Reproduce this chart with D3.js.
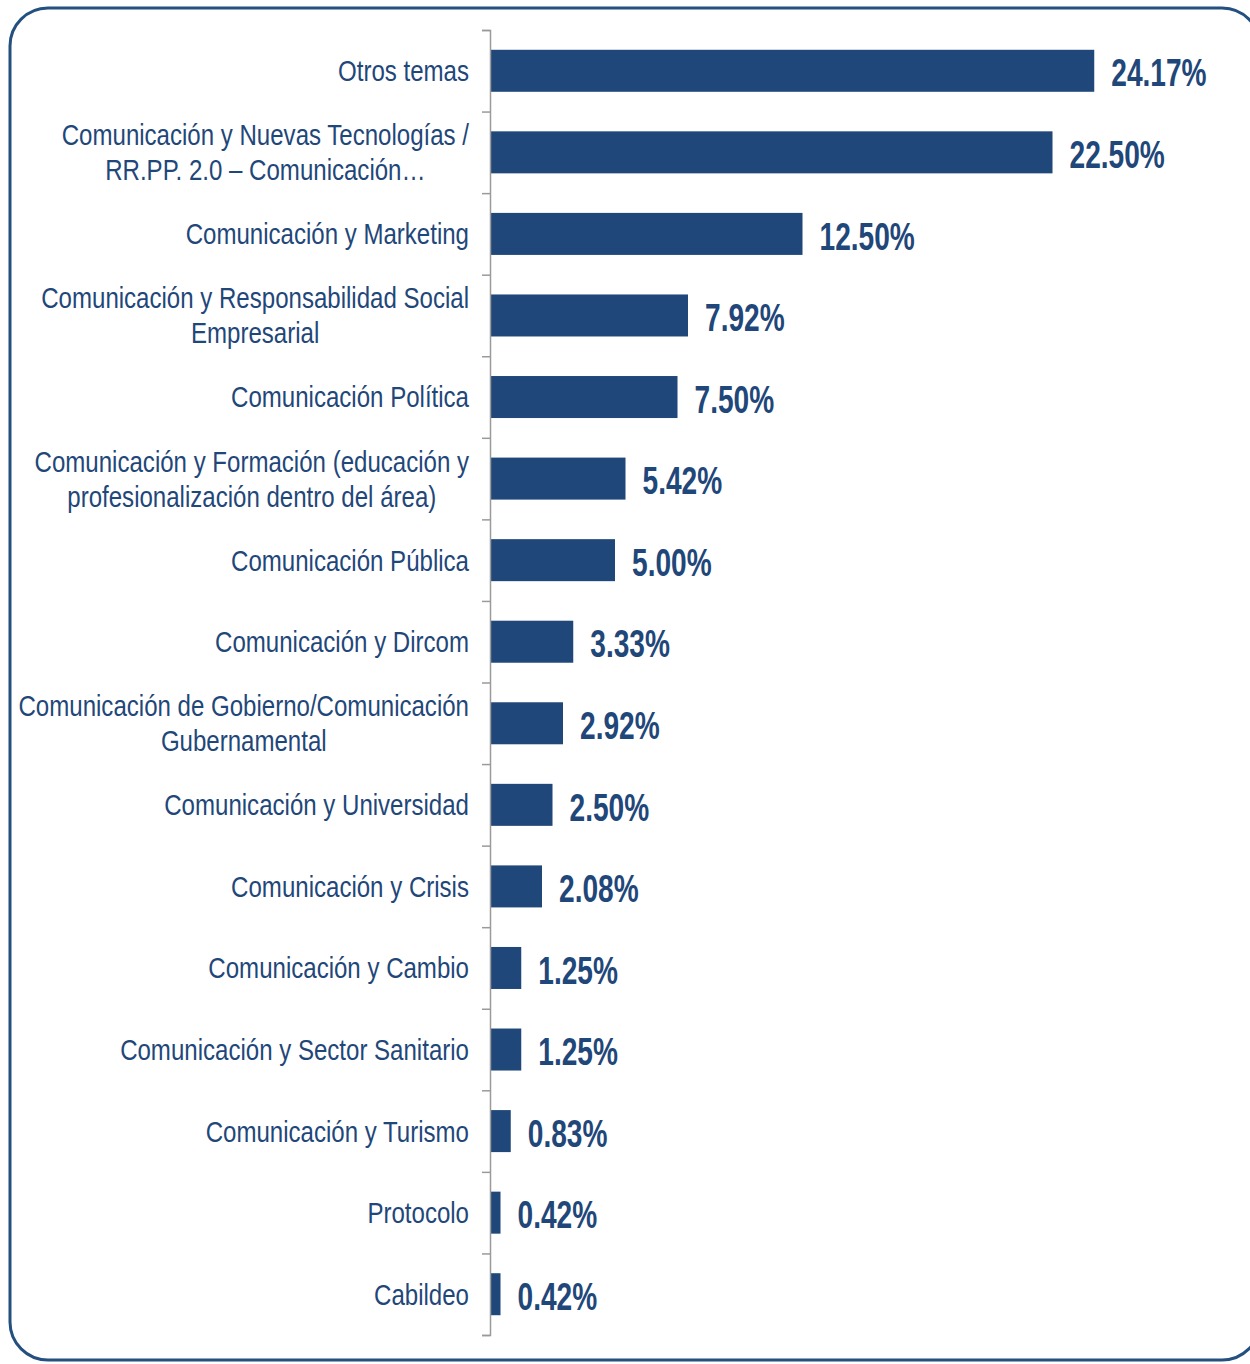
<!DOCTYPE html>
<html>
<head>
<meta charset="utf-8">
<script src="https://cdn.jsdelivr.net/npm/d3@7"></script>
<style>
  body { margin: 0; background: #fff; }
  svg { display: block; }
</style>
</head>
<body>
<div id="chart"></div>
<script>
// categories (lines split with |) and shares in %
const categories = [
  "Otros temas",
  "Comunicación y Nuevas Tecnologías /|RR.PP. 2.0 – Comunicación…",
  "Comunicación y Marketing",
  "Comunicación y Responsabilidad Social|Empresarial",
  "Comunicación Política",
  "Comunicación y Formación (educación y|profesionalización dentro del área)",
  "Comunicación Pública",
  "Comunicación y Dircom",
  "Comunicación de Gobierno/Comunicación|Gubernamental",
  "Comunicación y Universidad",
  "Comunicación y Crisis",
  "Comunicación y Cambio",
  "Comunicación y Sector Sanitario",
  "Comunicación y Turismo",
  "Protocolo",
  "Cabildeo"
];
const values = [24.17, 22.50, 12.50, 7.92, 7.50, 5.42, 5.00, 3.33, 2.92, 2.50, 2.08, 1.25, 1.25, 0.83, 0.42, 0.42];

const width = 1250, height = 1364;
const blue = "#1f4779";
const axisX = 490, plotTop = 30, plotBottom = 1335;

const svg = d3.select("#chart").append("svg")
    .attr("width", width)
    .attr("height", height);

// frame
svg.append("rect")
    .attr("x", 10).attr("y", 8)
    .attr("width", 1250).attr("height", 1352)
    .attr("rx", 38).attr("ry", 38)
    .attr("fill", "none")
    .attr("stroke", "#24507f")
    .attr("stroke-width", 3);

const y = d3.scaleBand()
    .domain(d3.range(categories.length))
    .range([plotTop, plotBottom])
    .paddingInner(0.485)
    .paddingOuter(0.2425);

const x = d3.scaleLinear()
    .domain([0, 30])
    .range([axisX, axisX + 750]);

const g = svg.append("g");

g.selectAll("rect.bar")
    .data(values)
    .join("rect")
    .attr("class", "bar")
    .attr("x", x(0))
    .attr("y", (d, i) => y(i))
    .attr("width", d => x(d) - x(0))
    .attr("height", y.bandwidth())
    .attr("fill", blue);

// axis line with ticks at band boundaries
const yAxis = d3.scaleLinear().domain([0, categories.length]).range([plotTop, plotBottom]);
const ax = svg.append("g")
    .attr("transform", `translate(${axisX},0)`)
    .call(d3.axisLeft(yAxis).tickValues(d3.range(categories.length + 1)).tickSize(8).tickSizeOuter(8).tickFormat(""));
ax.select(".domain").attr("stroke", "#9a9a9a").attr("stroke-width", 1.5);
ax.selectAll(".tick line").attr("stroke", "#9a9a9a").attr("stroke-width", 1.5);

// category labels
const lineH = 35;
const labels = svg.selectAll("g.lab")
    .data(categories)
    .join("g")
    .attr("class", "lab")
    .attr("transform", (d, i) => `translate(469,${y(i) + y.bandwidth() / 2})`)
  .append("g")
    .attr("transform", "scale(0.83,1)");

labels.each(function(d) {
  const lines = d.split("|");
  const t = d3.select(this).append("text")
      .attr("font-family", "Liberation Sans, Arial, sans-serif")
      .attr("font-size", 29)
      .attr("fill", blue)
      .attr("text-anchor", "middle");
  lines.forEach((l, k) => {
    t.append("tspan")
        .attr("x", 0)
        .attr("y", (k - (lines.length - 1) / 2) * lineH)
        .attr("dy", "0.36em")
        .text(l);
  });
  let w = 0;
  t.selectAll("tspan").each(function() { w = Math.max(w, this.getComputedTextLength()); });
  t.selectAll("tspan").attr("x", -w / 2);
});

// value labels
svg.selectAll("g.val")
    .data(values)
    .join("g")
    .attr("class", "val")
    .attr("transform", (d, i) => `translate(${x(d) + 17},${y(i) + y.bandwidth() / 2 + 2})`)
  .append("text")
    .attr("transform", "scale(0.74,1)")
    .attr("font-family", "Liberation Sans, Arial, sans-serif")
    .attr("font-weight", "bold")
    .attr("font-size", 38)
    .attr("fill", blue)
    .attr("dy", "0.36em")
    .text(d => d.toFixed(2) + "%");
</script>
</body>
</html>
